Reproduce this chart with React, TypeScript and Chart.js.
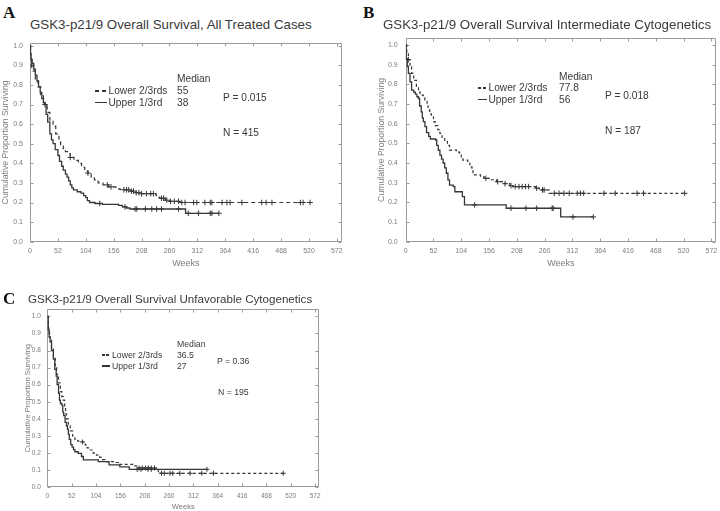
import React, { useEffect, useRef } from 'react';
import { Chart, registerables } from 'chart.js';

Chart.register(...registerables);

// ---------- axes ----------
const X_TICKS = [0, 52, 104, 156, 208, 260, 312, 364, 416, 468, 520, 572];
const Y_TICKS = [0, 0.1, 0.2, 0.3, 0.4, 0.5, 0.6, 0.7, 0.8, 0.9, 1.0];
const X_MAX = 581;

// ---------- Panel A: All treated cases ----------
const A_LOWER_T = [0, 1, 3, 6, 10, 15, 20, 25, 28, 32, 37, 43, 48, 54, 57, 62, 66, 70, 75, 82, 90, 96, 102, 108, 114, 120, 127, 136, 146, 160, 168, 185, 195, 205, 235, 241, 252, 260, 280, 522];
const A_LOWER_S = [1.0, 0.95, 0.9, 0.87, 0.82, 0.79, 0.75, 0.71, 0.7, 0.66, 0.62, 0.59, 0.55, 0.51, 0.495, 0.475, 0.46, 0.45, 0.43, 0.415, 0.4, 0.38, 0.36, 0.35, 0.33, 0.315, 0.3, 0.29, 0.28, 0.27, 0.265, 0.258, 0.25, 0.245, 0.235, 0.222, 0.212, 0.206, 0.2, 0.2];
const A_LOWER_CENSOR = [3, 28, 75, 108, 144, 151, 175, 180, 184, 189, 193, 198, 203, 208, 217, 225, 230, 245, 249, 255, 262, 269, 277, 283, 289, 305, 311, 326, 336, 339, 358, 367, 373, 395, 432, 440, 451, 504, 509, 522];
const A_UPPER_T = [0, 1, 2, 4, 7, 10, 13, 16, 19, 22, 25, 28, 30, 33, 37, 40, 43, 47, 52, 55, 59, 62, 66, 69, 72, 75, 78, 81, 88, 95, 100, 104, 107, 111, 121, 135, 165, 172, 180, 186, 290, 352];
const A_UPPER_S = [1.0, 0.96, 0.93, 0.91, 0.88, 0.85, 0.82, 0.79, 0.76, 0.73, 0.71, 0.7, 0.65, 0.61, 0.55, 0.52, 0.5, 0.47, 0.44, 0.41, 0.385, 0.365, 0.345, 0.33, 0.31, 0.29, 0.275, 0.264, 0.255, 0.248, 0.235, 0.225, 0.21, 0.2, 0.195, 0.19, 0.185, 0.178, 0.172, 0.167, 0.145, 0.145];
const A_UPPER_CENSOR = [130, 177, 196, 199, 215, 227, 236, 245, 277, 295, 314, 336, 339, 352];

// ---------- Panel B: Intermediate cytogenetics ----------
const B_LOWER_T = [0, 2, 5, 8, 11, 15, 20, 24, 27, 33, 36, 40, 42, 45, 48, 52, 55, 60, 64, 68, 73, 78, 82, 95, 101, 104, 107, 116, 120, 124, 126, 140, 147, 160, 170, 185, 195, 200, 243, 250, 268, 523];
const B_LOWER_S = [1.0, 0.96, 0.925, 0.89, 0.856, 0.82, 0.79, 0.76, 0.745, 0.73, 0.72, 0.69, 0.67, 0.65, 0.635, 0.61, 0.59, 0.57, 0.55, 0.53, 0.51, 0.49, 0.466, 0.455, 0.45, 0.43, 0.415, 0.4, 0.38, 0.36, 0.34, 0.33, 0.322, 0.315, 0.305, 0.295, 0.285, 0.28, 0.272, 0.263, 0.246, 0.246];
const B_LOWER_CENSOR = [5, 150, 172, 186, 197, 205, 212, 218, 224, 230, 245, 256, 259, 278, 287, 296, 306, 321, 327, 333, 371, 392, 433, 445, 522];
const B_UPPER_T = [0, 1, 3, 5, 8, 11, 15, 18, 21, 24, 26, 29, 31, 33, 36, 39, 43, 46, 56, 58, 61, 64, 67, 70, 73, 76, 79, 82, 89, 92, 104, 106, 110, 188, 290, 351];
const B_UPPER_S = [1.0, 0.93, 0.89, 0.856, 0.813, 0.771, 0.76, 0.75, 0.737, 0.728, 0.69, 0.66, 0.63, 0.61, 0.585, 0.555, 0.535, 0.522, 0.517, 0.49, 0.465, 0.44, 0.42, 0.4, 0.375, 0.348, 0.314, 0.288, 0.28, 0.254, 0.254, 0.229, 0.187, 0.17, 0.126, 0.126];
const B_UPPER_CENSOR = [129, 197, 225, 245, 274, 276, 313, 351];

// ---------- Panel C: Unfavorable cytogenetics ----------
const C_LOWER_T = [0, 2, 4, 6, 9, 13, 17, 20, 24, 28, 31, 34, 37, 39, 41, 45, 49, 54, 59, 65, 75, 81, 85, 88, 98, 105, 112, 118, 123, 145, 152, 184, 194, 237, 505];
const C_LOWER_S = [1.0, 0.93, 0.88, 0.86, 0.81, 0.76, 0.7, 0.66, 0.61, 0.56, 0.53, 0.51, 0.47, 0.43, 0.4, 0.36, 0.33, 0.3, 0.28, 0.27, 0.265, 0.248, 0.23, 0.218, 0.2, 0.188, 0.175, 0.162, 0.15, 0.145, 0.134, 0.125, 0.113, 0.082, 0.082];
const C_LOWER_CENSOR = [75, 196, 203, 210, 216, 222, 229, 244, 250, 262, 268, 283, 305, 330, 355, 504];
const C_UPPER_T = [0, 2, 4, 6, 9, 13, 16, 19, 21, 24, 26, 28, 31, 33, 35, 38, 41, 43, 45, 47, 50, 53, 56, 59, 66, 73, 77, 109, 132, 155, 175, 341];
const C_UPPER_S = [1.0, 0.92, 0.88, 0.85, 0.8, 0.75, 0.69, 0.65, 0.6, 0.55, 0.51, 0.49, 0.48, 0.44, 0.42, 0.38, 0.36, 0.34, 0.31, 0.28, 0.25, 0.235, 0.22, 0.208, 0.198, 0.18, 0.16, 0.15, 0.131, 0.12, 0.105, 0.105];
const C_UPPER_CENSOR = [192, 200, 215, 222, 341];

// ---------- styling ----------
const INK = '#363636';
const FRAME = '#9c9c9c';
const LABEL = '#7c7c7c';
const TEXT = '#3a3a3a';
const SANS = '"Liberation Sans", Arial, Helvetica, sans-serif';
const SERIF = '"Liberation Serif", "Times New Roman", serif';

type Box = { x: number; y: number; w: number; h: number };
type Area = { l: number; t: number; r: number; b: number };
type Spec = {
  box: Box;
  area: Area;
  yMax: number;
  yAxisW: number;
  xAxisH: number;
  tickSize: number;
  xTickPad: number;
  yTickPad: number;
  yTitleSize: number;
  xTitleSize: number;
  dash: number[];
  markR: number;
  lowT: number[];
  lowS: number[];
  lowC: number[];
  upT: number[];
  upS: number[];
  upC: number[];
};

function stepAt(ts: number[], ss: number[], t: number) {
  let v = ss[0];
  for (let i = 0; i < ts.length; i++) {
    if (ts[i] <= t) v = ss[i];
    else break;
  }
  return v;
}

const framePlugin = {
  id: 'kmFrame',
  beforeDatasetsDraw(chart: any) {
    const { ctx, chartArea: a, scales } = chart;
    const L = Math.round(a.left) + 0.5;
    const R = Math.round(a.right) - 0.5;
    const T = Math.round(a.top) + 0.5;
    const B = Math.round(a.bottom) - 0.5;
    ctx.save();
    ctx.strokeStyle = FRAME;
    ctx.lineWidth = 1;
    ctx.beginPath();
    ctx.rect(L, T, R - L, B - T);
    for (const v of X_TICKS) {
      const x = Math.round(scales.x.getPixelForValue(v)) + 0.5;
      ctx.moveTo(x, T);
      ctx.lineTo(x, T + 3);
      ctx.moveTo(x, B);
      ctx.lineTo(x, B - 3);
    }
    for (const v of Y_TICKS) {
      const y = Math.round(scales.y.getPixelForValue(v)) + 0.5;
      ctx.moveTo(L, y);
      ctx.lineTo(L + 3, y);
      ctx.moveTo(R, y);
      ctx.lineTo(R - 3, y);
    }
    ctx.stroke();
    ctx.restore();
  },
};

function buildConfig(p: Spec): any {
  const pad = {
    left: p.area.l - p.box.x - p.yAxisW,
    top: p.area.t - p.box.y,
    right: p.box.x + p.box.w - p.area.r,
    bottom: p.box.y + p.box.h - p.area.b - p.xAxisH,
  };
  const lineDs = (ts: number[], ss: number[], dash: number[], width: number) => ({
    data: ts.map((t, i) => ({ x: t, y: ss[i] })),
    borderColor: INK,
    borderWidth: width,
    borderDash: dash,
    stepped: true,
    pointRadius: 0,
    pointHoverRadius: 0,
    fill: false,
  });
  const censorDs = (ts: number[], ss: number[], cs: number[]) => ({
    data: cs.map((t) => ({ x: t, y: stepAt(ts, ss, t) })),
    showLine: false,
    pointStyle: 'cross',
    pointRadius: p.markR,
    pointHoverRadius: p.markR,
    borderColor: INK,
    backgroundColor: INK,
    borderWidth: 1,
  });
  const zeroPad = (s: any) => {
    s.paddingLeft = 0;
    s.paddingRight = 0;
    s.paddingTop = 0;
    s.paddingBottom = 0;
  };
  return {
    type: 'line',
    data: {
      datasets: [
        lineDs(p.lowT, p.lowS, p.dash, 1.2),
        lineDs(p.upT, p.upS, [], 1.3),
        censorDs(p.lowT, p.lowS, p.lowC),
        censorDs(p.upT, p.upS, p.upC),
      ],
    },
    options: {
      animation: false,
      responsive: false,
      maintainAspectRatio: false,
      events: [],
      layout: { padding: pad },
      plugins: { legend: { display: false }, tooltip: { enabled: false }, title: { display: false } },
      scales: {
        x: {
          type: 'linear',
          min: 0,
          max: X_MAX,
          afterBuildTicks: (s: any) => {
            s.ticks = X_TICKS.map((v) => ({ value: v }));
          },
          afterFit: (s: any) => {
            s.height = p.xAxisH;
            zeroPad(s);
          },
          grid: { display: false, drawTicks: false },
          border: { display: false },
          ticks: {
            color: LABEL,
            font: { family: SANS, size: p.tickSize },
            padding: p.xTickPad,
            maxRotation: 0,
            minRotation: 0,
            autoSkip: false,
            callback: (v: any) => String(v),
          },
          title: {
            display: true,
            text: 'Weeks',
            color: LABEL,
            font: { family: SANS, size: p.xTitleSize },
            padding: 0,
          },
        },
        y: {
          type: 'linear',
          min: 0,
          max: p.yMax,
          afterBuildTicks: (s: any) => {
            s.ticks = Y_TICKS.map((v) => ({ value: v }));
          },
          afterFit: (s: any) => {
            s.width = p.yAxisW;
            zeroPad(s);
          },
          grid: { display: false, drawTicks: false },
          border: { display: false },
          ticks: {
            color: LABEL,
            font: { family: SANS, size: p.tickSize },
            padding: p.yTickPad,
            autoSkip: false,
            callback: (v: any) => Number(v).toFixed(1),
          },
          title: {
            display: true,
            text: 'Cumulative Proportion Surviving',
            color: LABEL,
            font: { family: SANS, size: p.yTitleSize },
            padding: 0,
          },
        },
      },
    },
    plugins: [framePlugin],
  };
}

const SPEC_A: Spec = {
  box: { x: 0, y: 35, w: 350, h: 245 },
  area: { l: 30, t: 43, r: 341.7, b: 241.7 },
  yMax: 1.014,
  yAxisW: 29.2,
  xAxisH: 27,
  tickSize: 7,
  xTickPad: 4.8,
  yTickPad: 7,
  yTitleSize: 8.7,
  xTitleSize: 9,
  dash: [4, 3],
  markR: 2.8,
  lowT: A_LOWER_T, lowS: A_LOWER_S, lowC: A_LOWER_CENSOR,
  upT: A_UPPER_T, upS: A_UPPER_S, upC: A_UPPER_CENSOR,
};

const SPEC_B: Spec = {
  box: { x: 370, y: 28, w: 350, h: 250 },
  area: { l: 405.7, t: 38, r: 718.3, b: 241.7 },
  yMax: 1.0356,
  yAxisW: 29.4,
  xAxisH: 27,
  tickSize: 7,
  xTickPad: 4.8,
  yTickPad: 8,
  yTitleSize: 8.7,
  xTitleSize: 9,
  dash: [3, 2.5],
  markR: 2.8,
  lowT: B_LOWER_T, lowS: B_LOWER_S, lowC: B_LOWER_CENSOR,
  upT: B_UPPER_T, upS: B_UPPER_S, upC: B_UPPER_CENSOR,
};

const SPEC_C: Spec = {
  box: { x: 0, y: 298, w: 330, h: 217 },
  area: { l: 47.3, t: 309, r: 319.3, b: 487.3 },
  yMax: 1.0427,
  yAxisW: 24.4,
  xAxisH: 24,
  tickSize: 6.5,
  xTickPad: 4.8,
  yTickPad: 6.5,
  yTitleSize: 7.6,
  xTitleSize: 7.6,
  dash: [3, 2.5],
  markR: 2.5,
  lowT: C_LOWER_T, lowS: C_LOWER_S, lowC: C_LOWER_CENSOR,
  upT: C_UPPER_T, upS: C_UPPER_S, upC: C_UPPER_CENSOR,
};

function KMPanel({ spec }: { spec: Spec }) {
  const ref = useRef<HTMLCanvasElement | null>(null);
  useEffect(() => {
    if (!ref.current) return;
    const chart = new Chart(ref.current, buildConfig(spec));
    return () => chart.destroy();
  }, [spec]);
  return (
    <canvas
      ref={ref}
      width={spec.box.w}
      height={spec.box.h}
      style={{ position: 'absolute', left: spec.box.x, top: spec.box.y, width: spec.box.w, height: spec.box.h }}
    />
  );
}

// text whose cap-height centre sits at y
function Txt({ x, y, size, children, serif, bold, color }: any) {
  const k = serif ? 0.51 : 0.49;
  return (
    <div
      style={{
        position: 'absolute',
        left: x,
        top: y - k * size,
        fontSize: size,
        lineHeight: `${size}px`,
        fontFamily: serif ? SERIF : SANS,
        fontWeight: bold ? 700 : 400,
        color: color || TEXT,
        whiteSpace: 'nowrap',
      }}
    >
      {children}
    </div>
  );
}

function Seg({ x1, x2, y }: { x1: number; x2: number; y: number }) {
  return (
    <div style={{ position: 'absolute', left: x1, top: y - 0.6, width: x2 - x1, height: 1.2, background: INK }} />
  );
}

export default function App() {
  return (
    <div
      style={{
        position: 'fixed',
        left: 0,
        top: 0,
        width: 720,
        height: 511,
        overflow: 'hidden',
        background: '#ffffff',
        fontFamily: SANS,
      }}
    >
      <KMPanel spec={SPEC_A} />
      <KMPanel spec={SPEC_B} />
      <KMPanel spec={SPEC_C} />

      {/* Panel A */}
      <Txt x={3} y={13} size={17} serif bold color="#111">A</Txt>
      <Txt x={30} y={24.5} size={13.3}>GSK3-p21/9 Overall Survival, All Treated Cases</Txt>
      <Txt x={177} y={79} size={10.2}>Median</Txt>
      <Seg x1={95} x2={99} y={91} />
      <Seg x1={102} x2={106} y={91} />
      <Txt x={108.5} y={91} size={10.2}>Lower 2/3rds</Txt>
      <Txt x={177} y={91} size={10.2}>55</Txt>
      <Seg x1={95} x2={107} y={102.5} />
      <Txt x={108.5} y={102.5} size={10.2}>Upper 1/3rd</Txt>
      <Txt x={177} y={102.5} size={10.2}>38</Txt>
      <Txt x={223} y={98} size={10.2}>P = 0.015</Txt>
      <Txt x={223} y={133} size={10.2}>N = 415</Txt>

      {/* Panel B */}
      <Txt x={363} y={13} size={17} serif bold color="#111">B</Txt>
      <Txt x={383} y={24.5} size={13.3}>GSK3-p21/9 Overall Survival Intermediate Cytogenetics</Txt>
      <Txt x={559} y={77} size={10.2}>Median</Txt>
      <Seg x1={477.5} x2={480.5} y={88} />
      <Seg x1={482.5} x2={485.5} y={88} />
      <Txt x={488.5} y={88} size={10.2}>Lower 2/3rds</Txt>
      <Txt x={559} y={88} size={10.2}>77.8</Txt>
      <Seg x1={477.5} x2={487} y={99.5} />
      <Txt x={488.5} y={99.5} size={10.2}>Upper 1/3rd</Txt>
      <Txt x={559} y={99.5} size={10.2}>56</Txt>
      <Txt x={605} y={96} size={10.2}>P = 0.018</Txt>
      <Txt x={605} y={131} size={10.2}>N = 187</Txt>

      {/* Panel C */}
      <Txt x={3} y={299} size={17} serif bold color="#111">C</Txt>
      <Txt x={28} y={299} size={11.6}>GSK3-p21/9 Overall Survival Unfavorable Cytogenetics</Txt>
      <Txt x={177} y={344.3} size={8.7}>Median</Txt>
      <Seg x1={101.5} x2={104.5} y={355} />
      <Seg x1={106} x2={109} y={355} />
      <Txt x={112} y={355} size={8.7}>Lower 2/3rds</Txt>
      <Txt x={177} y={355} size={8.7}>36.5</Txt>
      <Seg x1={101.5} x2={110} y={366} />
      <Txt x={112} y={366} size={8.7}>Upper 1/3rd</Txt>
      <Txt x={177} y={366} size={8.7}>27</Txt>
      <Txt x={217} y={361} size={8.7}>P = 0.36</Txt>
      <Txt x={218} y={392} size={8.7}>N = 195</Txt>
    </div>
  );
}
